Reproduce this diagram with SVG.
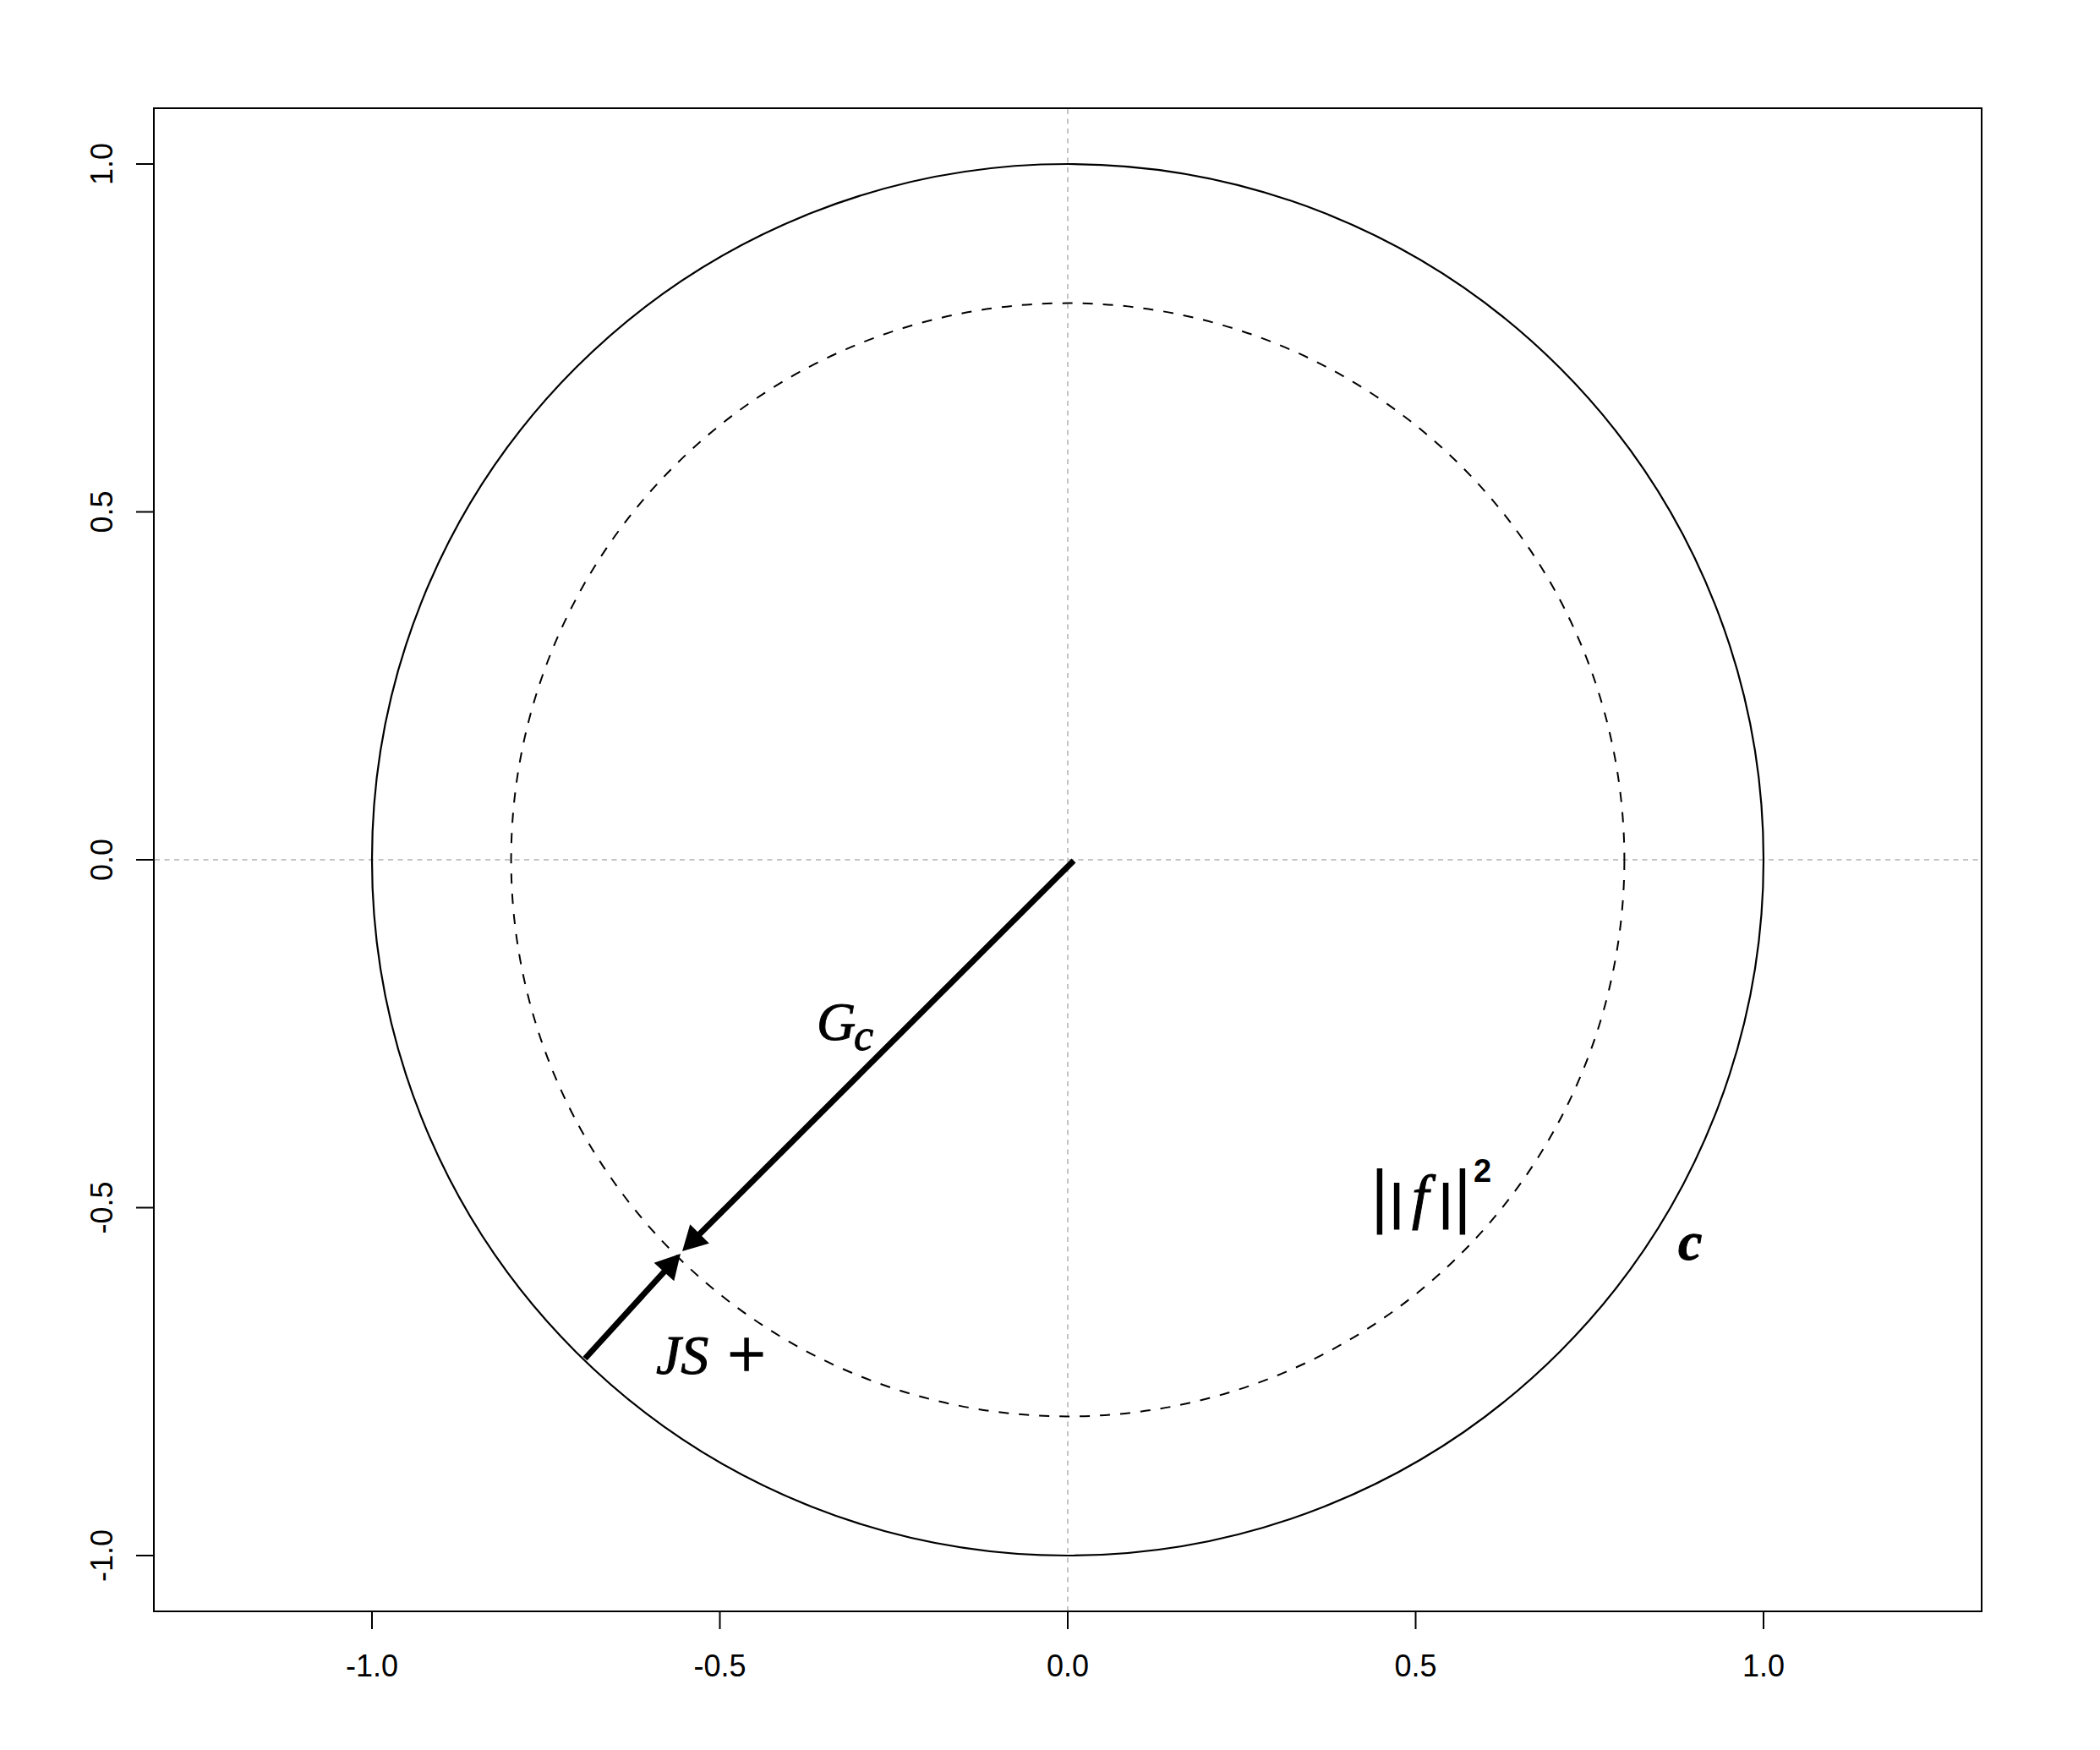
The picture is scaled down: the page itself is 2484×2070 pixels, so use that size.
<svg xmlns="http://www.w3.org/2000/svg" width="2484" height="2070" viewBox="0 0 2484 2070">
<style>
.axis{stroke:#000;stroke-width:2;fill:none}
.tick{font-family:"Liberation Sans",Arial,sans-serif;font-size:36px;fill:#000}
.grid{stroke:#c4c4c4;stroke-width:2;stroke-dasharray:6 5.5;fill:none}
.outer{stroke:#000;stroke-width:2.2;fill:none}
.inner{stroke:#000;stroke-width:2;stroke-dasharray:12 12;fill:none}
.arrow{stroke:#000;stroke-width:7;fill:none;stroke-linecap:butt}
.math{font-family:"Liberation Serif","DejaVu Serif",serif;font-style:italic;fill:#000;stroke:#000;stroke-width:1}
.bar{font-family:"DejaVu Sans",sans-serif;fill:#000}
</style>
<defs>
<marker id="head" markerUnits="userSpaceOnUse" viewBox="0 -17 30 34" markerWidth="30" markerHeight="34" refX="9" refY="0" orient="auto" overflow="visible">
<path d="M0,-16 L29,0 L0,16 Z" fill="#000"/>
</marker>
</defs>
<rect width="2484" height="2070" fill="#fff"/>
<g id="frame">
<rect class="axis" x="182" y="128" width="2162" height="1778"/>
<g class="axis">
<line x1="440" y1="1906" x2="440" y2="1927"/>
<line x1="851.5" y1="1906" x2="851.5" y2="1927"/>
<line x1="1263" y1="1906" x2="1263" y2="1927"/>
<line x1="1674.5" y1="1906" x2="1674.5" y2="1927"/>
<line x1="2086" y1="1906" x2="2086" y2="1927"/>
<line x1="161" y1="194" x2="182" y2="194"/>
<line x1="161" y1="605.5" x2="182" y2="605.5"/>
<line x1="161" y1="1017" x2="182" y2="1017"/>
<line x1="161" y1="1428.5" x2="182" y2="1428.5"/>
<line x1="161" y1="1840" x2="182" y2="1840"/>
</g>
<g class="tick" text-anchor="middle">
<text x="440" y="1983">-1.0</text>
<text x="851.5" y="1983">-0.5</text>
<text x="1263" y="1983">0.0</text>
<text x="1674.5" y="1983">0.5</text>
<text x="2086" y="1983">1.0</text>
<text transform="translate(133,194) rotate(-90)">1.0</text>
<text transform="translate(133,605.5) rotate(-90)">0.5</text>
<text transform="translate(133,1017) rotate(-90)">0.0</text>
<text transform="translate(133,1428.5) rotate(-90)">-0.5</text>
<text transform="translate(133,1840) rotate(-90)">-1.0</text>
</g>
</g>
<g id="gridlines">
<line class="grid" x1="1263" y1="129" x2="1263" y2="1905"/>
<line class="grid" x1="183" y1="1017" x2="2343" y2="1017"/>
</g>
<g id="circle-c">
<circle class="outer" cx="1263" cy="1017" r="823"/>
</g>
<g id="circle-f">
<circle class="inner" cx="1263" cy="1017" r="658.4"/>
</g>
<g id="connectors">
<line class="arrow" x1="1270" y1="1018" x2="821.2" y2="1465.9" marker-end="url(#head)"/>
<line class="arrow" x1="692" y1="1607" x2="791.5" y2="1497.8" marker-end="url(#head)"/>
</g>
<g id="label-Gc">
<text class="math" x="966" y="1230" font-size="64">G</text>
<text class="math" x="1010" y="1242" font-size="52">c</text>
</g>
<g id="label-JS">
<text class="math" x="776" y="1625" font-size="66">JS</text>
<text x="883" y="1629" font-size="80" text-anchor="middle" font-family="Liberation Serif,serif" stroke="#000" stroke-width="1.5">+</text>
</g>
<g id="label-f">
<g class="bar" text-anchor="middle">
<text x="1632" y="1442" font-size="78">|</text>
<text x="1652" y="1441" font-size="54" stroke="#000" stroke-width="2">|</text>
<text x="1710" y="1441" font-size="54" stroke="#000" stroke-width="2">|</text>
<text x="1730" y="1442" font-size="78">|</text>
</g>
<text class="math" x="1680" y="1440" font-size="72" text-anchor="middle">f</text>
<text x="1743" y="1398" font-size="38" font-weight="bold" font-family="Liberation Sans,sans-serif">2</text>
</g>
<g id="label-c">
<text class="math" x="1985" y="1490" font-size="64" font-weight="bold">c</text>
</g>
</svg>
